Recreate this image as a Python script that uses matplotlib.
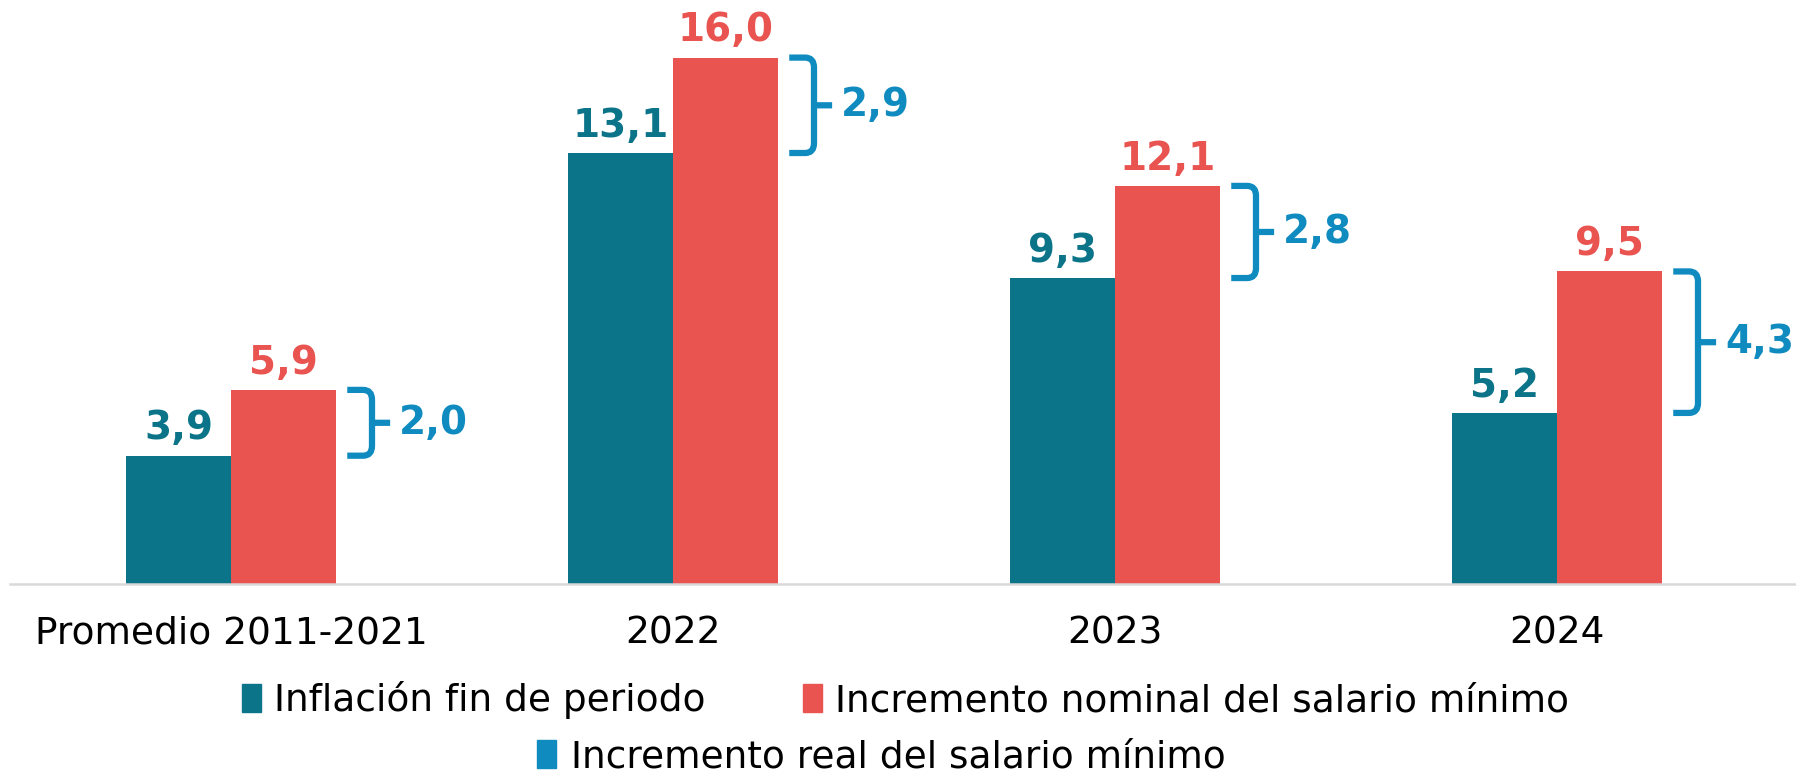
import matplotlib
matplotlib.use("Agg")
import matplotlib.pyplot as plt
from matplotlib.path import Path
from matplotlib.patches import PathPatch, Patch

categories = ["Promedio 2011-2021", "2022", "2023", "2024"]
inflacion = [3.9, 13.1, 9.3, 5.2]
nominal = [5.9, 16.0, 12.1, 9.5]
real = [2.0, 2.9, 2.8, 4.3]

TEAL = "#0B7488"
RED = "#E95451"
BLUE = "#108BBF"


def fmt(v):
    return f"{v:.1f}".replace(".", ",")


def brace(ax, x0, y_top, y_bot, color, lw=4.5):
    xm = x0 + 0.056
    xt = x0 + 0.097
    rx, ry = 0.02, 0.3
    ymid = (y_top + y_bot) / 2
    verts = [(x0, y_top), (xm - rx, y_top), (xm, y_top), (xm, y_top - ry),
             (xm, y_bot + ry), (xm, y_bot), (xm - rx, y_bot), (x0, y_bot),
             (xm, ymid), (xt, ymid)]
    codes = [Path.MOVETO, Path.LINETO, Path.CURVE3, Path.CURVE3,
             Path.LINETO, Path.CURVE3, Path.CURVE3, Path.LINETO,
             Path.MOVETO, Path.LINETO]
    ax.add_patch(PathPatch(Path(verts, codes), fill=False, edgecolor=color,
                           lw=lw, capstyle="butt", joinstyle="round"))


W, H = 1796, 773
fig = plt.figure(figsize=(W / 100, H / 100), dpi=100)
ax = fig.add_axes([10 / W, (H - 584) / H, 1786 / W, 584 / H])

w = 0.238
x = list(range(len(categories)))
xt = [i - w / 2 for i in x]
xn = [i + w / 2 for i in x]
ax.bar(xt, inflacion, width=w, color=TEAL)
ax.bar(xn, nominal, width=w, color=RED)

for i in x:
    ax.annotate(fmt(inflacion[i]), (xt[i], inflacion[i]), xytext=(0, 6),
                textcoords="offset points", ha="center", va="bottom",
                color=TEAL, fontsize=28, fontweight="bold")
    ax.annotate(fmt(nominal[i]), (xn[i], nominal[i]), xytext=(0, 6),
                textcoords="offset points", ha="center", va="bottom",
                color=RED, fontsize=28, fontweight="bold")
    bx = xn[i] + w / 2 + 0.025
    brace(ax, bx, nominal[i], inflacion[i], BLUE)
    ax.text(bx + 0.117, (nominal[i] + inflacion[i]) / 2, fmt(real[i]),
            ha="left", va="center", color=BLUE, fontsize=28, fontweight="bold")

ax.set_xlim(-0.5, -0.5 + 1786 / 442)
ax.set_ylim(0, 584 / 32.9)
ax.set_xticks(x)
ax.set_xticklabels(categories, fontsize=27)
ax.tick_params(axis="x", length=0, pad=23)
ax.set_yticks([])
for s in ["top", "left", "right"]:
    ax.spines[s].set_visible(False)
ax.spines["bottom"].set_color("#D9D9D9")
ax.spines["bottom"].set_linewidth(1.8)

leg_font = {"family": ["DejaVu Sans Condensed", "Liberation Sans Narrow", "DejaVu Sans"], "size": 27}
h1 = [Patch(color=TEAL, label="Inflación fin de periodo"),
      Patch(color=RED, label="Incremento nominal del salario mínimo")]
h2 = [Patch(color=BLUE, label="Incremento real del salario mínimo")]
leg1 = fig.legend(handles=h1, loc="center", bbox_to_anchor=(0.5042, 1 - 700 / H), ncol=2,
                  frameon=False, prop=leg_font, handlelength=0.5, handleheight=0.8,
                  handletextpad=0.35, columnspacing=2.6, borderaxespad=0)
leg2 = fig.legend(handles=h2, loc="center", bbox_to_anchor=(0.4908, 1 - 757 / H), ncol=1,
                  frameon=False, prop=leg_font, handlelength=0.5, handleheight=0.8,
                  handletextpad=0.4, borderaxespad=0)

fig.savefig("out.png", dpi=100)
